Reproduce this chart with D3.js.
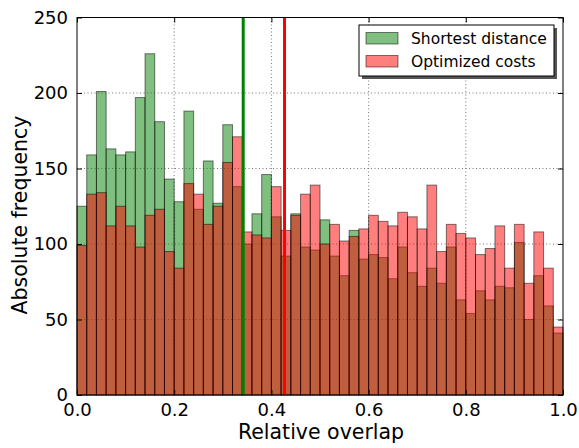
<!DOCTYPE html>
<html>
<head>
<meta charset="utf-8">
<script src="https://d3js.org/d3.v7.min.js"></script>
<style>
  body { margin: 0; background: #fff; }
  svg text { font-family: "DejaVu Sans", sans-serif; fill: #000; }
</style>
</head>
<body>
<svg id="chart" width="579" height="448"></svg>
<script>
// bin counts, 50 bins of width 0.02 from 0 to 1
const binWidth = 0.02;
const shortestCounts = [125,159,201,163,159,161,197,226,181,143,128,188,123,155,127,179,138,100,120,146,
                        118,92,120,98,96,116,92,79,109,90,93,91,77,98,81,72,84,74,98,63,
                        54,69,63,72,71,101,50,79,59,41];
const optimizedCounts = [99,133,134,112,125,112,98,119,123,95,84,140,133,113,125,154,171,108,106,104,
                         138,109,119,133,139,100,113,102,105,110,119,115,112,121,118,110,139,95,113,107,
                         104,93,97,112,84,113,74,108,84,45];
const seriesNames = ["Shortest distance", "Optimized costs"];
const seriesColors = ["#008000", "#ff0000"];
const meanLines = [0.342, 0.427];
const xTicks = [0, 0.2, 0.4, 0.6, 0.8, 1.0];
const yTicks = [0, 50, 100, 150, 200, 250];

const svg = d3.select("#chart");
const pLeft = 77, pRight = 563, pTop = 17.5, pBottom = 395;

const x = d3.scaleLinear().domain([0, 1]).range([pLeft, pRight]);
const y = d3.scaleLinear().domain([0, 250]).range([pBottom, pTop]);

// grid
const grid = svg.append("g").attr("stroke", "#555").attr("stroke-width", 0.8).attr("stroke-dasharray", "1,2.5");
grid.selectAll(".gx").data(xTicks.slice(1, -1)).enter().append("line")
  .attr("x1", d => x(d)).attr("x2", d => x(d)).attr("y1", pTop).attr("y2", pBottom);
grid.selectAll(".gy").data(yTicks.slice(1, -1)).enter().append("line")
  .attr("y1", d => y(d)).attr("y2", d => y(d)).attr("x1", pLeft).attr("x2", pRight);

// histograms
[shortestCounts, optimizedCounts].forEach(function(counts, k) {
  svg.append("g").selectAll("rect").data(counts).enter().append("rect")
    .attr("x", (d, i) => x(i * binWidth))
    .attr("width", (d, i) => x((i + 1) * binWidth) - x(i * binWidth))
    .attr("y", d => y(d))
    .attr("height", d => y(0) - y(d))
    .attr("fill", seriesColors[k])
    .attr("fill-opacity", 0.5)
    .attr("stroke", "#000")
    .attr("stroke-opacity", 0.5)
    .attr("stroke-width", 1);
});

// mean lines
svg.append("g").selectAll("line").data(meanLines).enter().append("line")
  .attr("x1", d => x(d)).attr("x2", d => x(d))
  .attr("y1", pTop).attr("y2", pBottom)
  .attr("stroke", (d, i) => seriesColors[i])
  .attr("stroke-width", 3);

// axes (ticks inside, on all four sides)
const axB = svg.append("g").attr("transform", "translate(0," + pBottom + ")")
  .call(d3.axisBottom(x).tickValues(xTicks).tickFormat(d3.format(".1f")).tickSizeInner(-5).tickSizeOuter(0).tickPadding(8));
const axL = svg.append("g").attr("transform", "translate(" + pLeft + ",0)")
  .call(d3.axisLeft(y).tickValues(yTicks).tickSizeInner(-5).tickSizeOuter(0).tickPadding(9));
const axT = svg.append("g").attr("transform", "translate(0," + pTop + ")")
  .call(d3.axisTop(x).tickValues(xTicks).tickSizeInner(-5).tickSizeOuter(0).tickFormat(""));
const axR = svg.append("g").attr("transform", "translate(" + pRight + ",0)")
  .call(d3.axisRight(y).tickValues(yTicks).tickSizeInner(-5).tickSizeOuter(0).tickFormat(""));
[axB, axL, axT, axR].forEach(function(a) {
  a.select(".domain").remove();
  a.selectAll("line").attr("stroke", "#000");
  a.selectAll("text").style("font-size", "18px").style("font-family", "DejaVu Sans");
});

svg.append("rect").attr("x", pLeft).attr("y", pTop).attr("width", pRight - pLeft).attr("height", pBottom - pTop)
  .attr("fill", "none").attr("stroke", "#000").attr("stroke-width", 1);

// axis labels
svg.append("text").attr("x", (pLeft + pRight) / 2 + 1).attr("y", 439).attr("text-anchor", "middle")
  .style("font-size", "20.5px").text("Relative overlap");
svg.append("text").attr("transform", "translate(27," + 215 + ") rotate(-90)")
  .attr("text-anchor", "middle").style("font-size", "20.5px").text("Absolute frequency");

// legend
const lg = svg.append("g").attr("transform", "translate(359,25)");
lg.append("rect").attr("x", 3).attr("y", 3).attr("width", 195).attr("height", 51).attr("fill", "#555");
lg.append("rect").attr("width", 195).attr("height", 51).attr("fill", "#fff").attr("stroke", "#000").attr("stroke-width", 1);
seriesNames.forEach(function(name, i) {
  lg.append("rect").attr("x", 7).attr("y", 7.5 + i * 23).attr("width", 32).attr("height", 11.5)
    .attr("fill", seriesColors[i]).attr("fill-opacity", 0.5)
    .attr("stroke", "#000").attr("stroke-opacity", 0.5);
  lg.append("text").attr("x", 52).attr("y", 19 + i * 23).style("font-size", "15.5px").text(name);
});
</script>
</body>
</html>
